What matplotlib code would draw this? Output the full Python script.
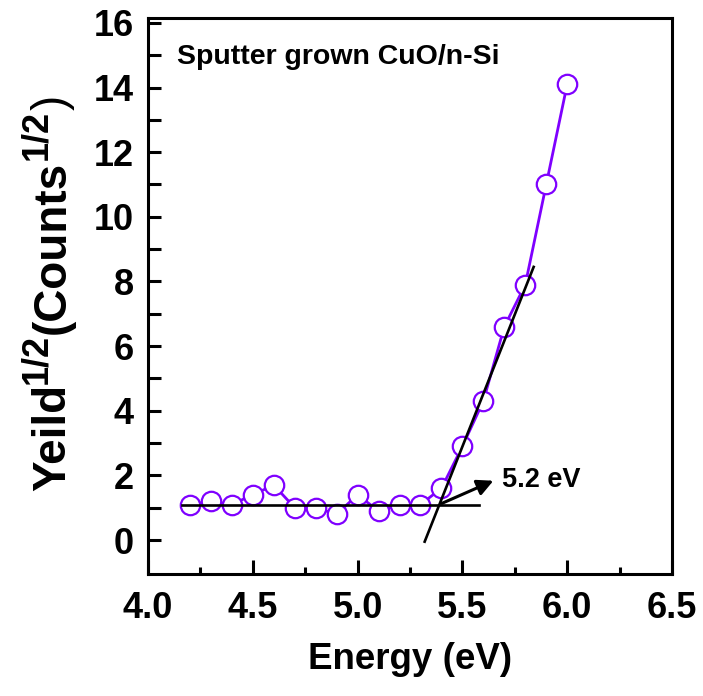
import matplotlib
matplotlib.use('Agg')
import matplotlib.pyplot as plt

# photoemission yield data
energy = [4.2, 4.3, 4.4, 4.5, 4.6, 4.7, 4.8, 4.9, 5.0, 5.1,
          5.2, 5.3, 5.4, 5.5, 5.6, 5.7, 5.8, 5.9, 6.0]
yield_sqrt = [1.1, 1.2, 1.1, 1.4, 1.7, 1.0, 1.0, 0.8, 1.4, 0.9,
              1.1, 1.1, 1.6, 2.9, 4.3, 6.6, 7.9, 11.0, 14.1]

# baseline and linear fit lines (end points)
base_x = [4.16, 5.58]
base_y = [1.08, 1.08]
fit_x = [5.32, 5.84]
fit_y = [-0.05, 8.45]

plt.rcParams['font.family'] = 'Liberation Sans'
plt.rcParams['font.weight'] = 'bold'

W, H = 703, 696
fig = plt.figure(figsize=(W / 100, H / 100), dpi=100)
ax = fig.add_axes([148 / W, 1 - 574 / H, (672 - 148) / W, (574 - 18) / H])

purple = '#7F00FF'
ax.plot(energy, yield_sqrt, color=purple, lw=2, marker='o', markersize=14,
        markerfacecolor='white', markeredgecolor=purple, markeredgewidth=1.6, zorder=2)
ax.plot(base_x, base_y, color='black', lw=1.9, zorder=3)
ax.plot(fit_x, fit_y, color='black', lw=1.9, zorder=3)

ax.annotate('', xy=(5.66, 1.87), xytext=(5.39, 1.1),
            arrowprops=dict(arrowstyle='-|>', color='black', lw=2.2, mutation_scale=24), zorder=4)
ax.text(5.69, 1.87, '5.2 eV', fontsize=19.5, fontweight='bold', va='center', ha='left')
ax.text(4.14, 14.95, 'Sputter grown CuO/n-Si', fontsize=20.5, fontweight='bold', va='center', ha='left')

ax.set_xlim(4.0, 6.5)
ax.set_ylim(-1.05, 16.15)
ax.set_xticks([4.0, 4.5, 5.0, 5.5, 6.0, 6.5])
ax.set_xticklabels(['4.0', '4.5', '5.0', '5.5', '6.0', '6.5'])
ax.set_xticks([4.25, 4.75, 5.25, 5.75, 6.25], minor=True)
ax.set_yticks(range(0, 17, 2))
ax.set_yticks(range(1, 17, 2), minor=True)

ax.tick_params(axis='both', which='both', direction='in', width=2.2, labelsize=26)
ax.tick_params(axis='x', which='major', length=10, pad=12)
ax.tick_params(axis='x', which='minor', length=5)
ax.tick_params(axis='y', which='both', length=9, pad=10)
for lab in ax.get_xticklabels() + ax.get_yticklabels():
    lab.set_fontweight('bold')
for sp in ax.spines.values():
    sp.set_linewidth(2.2)

ax.set_xlabel('Energy (eV)', fontsize=26.5, fontweight='bold', labelpad=12)

# y label built piece by piece (big superscripts like the original)
pieces = [('Yeild', 33, 'bold', 0), ('1/2', 26, 'bold', 19),
          ('(Counts', 33, 'bold', 0), ('1/2', 26, 'bold', 19), (')', 33, 'normal', 0)]
fig.canvas.draw()
r = fig.canvas.get_renderer()
texts = []
total = 0
for s, size, wt, off in pieces:
    t = fig.text(0, 0, s, fontsize=size, fontweight=wt, rotation=90,
                 rotation_mode='anchor', ha='left', va='baseline')
    h = t.get_window_extent(r).height
    texts.append((t, off, h))
    total += h
ypos = H - 293 - total / 2  # centre the label at 293 px from the top
for t, off, h in texts:
    t.set_position(((65 - off) / W, ypos / H))
    ypos += h

fig.savefig('out.png', dpi=100)
